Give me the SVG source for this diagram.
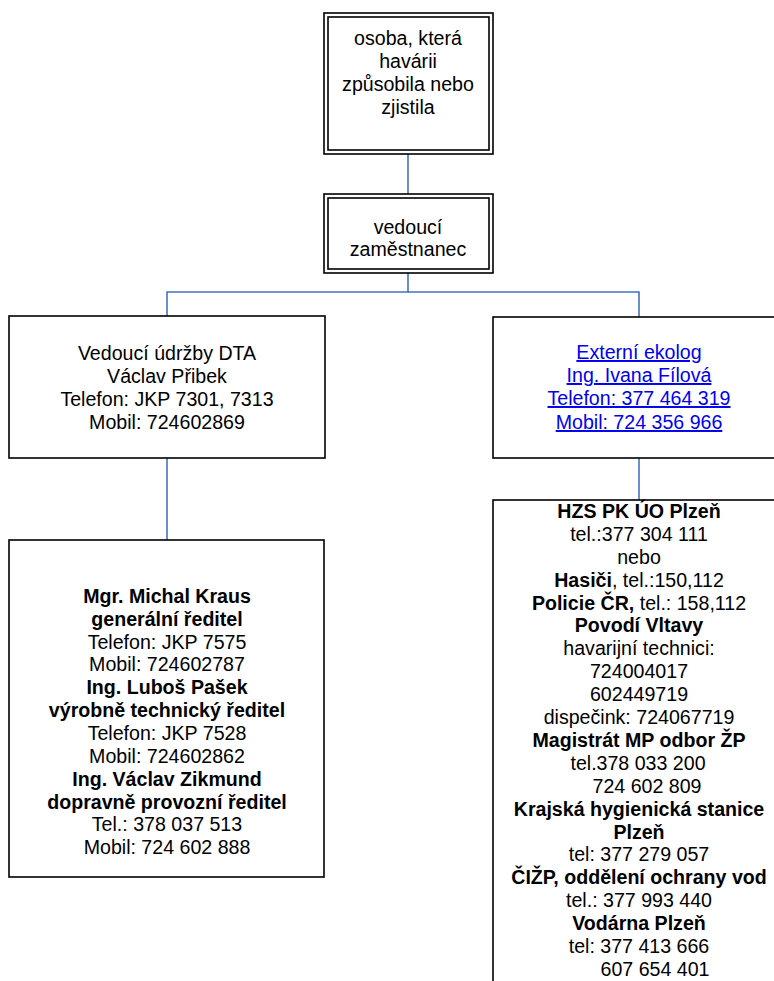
<svg xmlns="http://www.w3.org/2000/svg" width="774" height="981" viewBox="0 0 774 981">
<style>
.box{fill:#fff;stroke:#000;stroke-width:1.6}
.in{fill:none;stroke:#000;stroke-width:1.6}
.con{fill:none;stroke:#4472C4;stroke-width:1.6}
text{font-family:"Liberation Sans",Arial,sans-serif;font-size:19.6px;fill:#000;text-anchor:middle}
.b{font-weight:bold}
.link{fill:#0000EE;text-decoration:underline}
</style>
<rect width="774" height="981" fill="#fff"/>
<g id="connectors">
<line class="con" x1="408" y1="154" x2="408" y2="194"/>
<polyline class="con" points="408,273 408,292 167,292 167,316"/>
<polyline class="con" points="408,292 639,292 639,317"/>
<line class="con" x1="167" y1="458" x2="167" y2="540"/>
<line class="con" x1="639" y1="458" x2="639" y2="500"/>
</g>
<g id="n_osoba">
<rect class="box" x="324" y="13" width="169" height="141"/>
<rect class="in" x="328" y="17" width="161" height="133"/>
<text x="408" y="45">osoba, která</text>
<text x="408" y="68">havárii</text>
<text x="408" y="91">způsobila nebo</text>
<text x="408" y="114">zjistila</text>
</g>
<g id="n_vedouci">
<rect class="box" x="324" y="194" width="169" height="79"/>
<rect class="in" x="328" y="198" width="161" height="71"/>
<text x="408" y="234">vedoucí</text>
<text x="408" y="256">zaměstnanec</text>
</g>
<g id="n_udrzba">
<rect class="box" x="9" y="316" width="316" height="142"/>
<text x="167" y="360">Vedoucí údržby DTA</text>
<text x="167" y="383">Václav Přibek</text>
<text x="167" y="406">Telefon: JKP 7301, 7313</text>
<text x="167" y="429">Mobil: 724602869</text>
</g>
<g id="n_ekolog">
<rect class="box" x="493" y="317" width="300" height="141"/>
<text class="link" x="639" y="359">Externí ekolog</text>
<text class="link" x="639" y="382">Ing. Ivana Fílová</text>
<text class="link" x="639" y="405">Telefon: 377 464 319</text>
<text class="link" x="639" y="429">Mobil: 724 356 966</text>
</g>
<g id="n_reditele">
<rect class="box" x="9" y="540" width="315" height="337"/>
<text class="b" x="167" y="603">Mgr. Michal Kraus</text>
<text class="b" x="167" y="626">generální ředitel</text>
<text x="167" y="649">Telefon: JKP 7575</text>
<text x="167" y="671">Mobil: 724602787</text>
<text class="b" x="167" y="694">Ing. Luboš Pašek</text>
<text class="b" x="167" y="717">výrobně technický ředitel</text>
<text x="167" y="740">Telefon: JKP 7528</text>
<text x="167" y="763">Mobil: 724602862</text>
<text class="b" x="167" y="786">Ing. Václav Zikmund</text>
<text class="b" x="167" y="809">dopravně provozní ředitel</text>
<text x="167" y="831">Tel.: 378 037 513</text>
<text x="167" y="854">Mobil: 724 602 888</text>
</g>
<g id="n_kontakty">
<rect class="box" x="493" y="500" width="300" height="500"/>
<text class="b" x="639" y="518">HZS PK ÚO Plzeň</text>
<text x="639" y="541">tel.:377 304 111</text>
<text x="639" y="564">nebo</text>
<text x="639" y="587"><tspan class="b">Hasiči</tspan>, tel.:150,112</text>
<text x="639" y="610"><tspan class="b">Policie ČR,</tspan> tel.: 158,112</text>
<text class="b" x="639" y="632">Povodí Vltavy</text>
<text x="639" y="655">havarijní technici:</text>
<text x="639" y="678">724004017</text>
<text x="639" y="701">602449719</text>
<text x="639" y="724">dispečink: 724067719</text>
<text class="b" x="639" y="747">Magistrát MP odbor ŽP</text>
<text x="638" y="770">tel.378 033 200</text>
<text x="647" y="793">724 602 809</text>
<text class="b" x="639" y="816">Krajská hygienická stanice</text>
<text class="b" x="639" y="839">Plzeň</text>
<text x="639" y="861">tel: 377 279 057</text>
<text class="b" x="639" y="884">ČIŽP, oddělení ochrany vod</text>
<text x="639" y="907">tel.: 377 993 440</text>
<text class="b" x="639" y="930">Vodárna Plzeň</text>
<text x="639" y="953">tel: 377 413 666</text>
<text x="655" y="976">607 654 401</text>
</g>
</svg>
